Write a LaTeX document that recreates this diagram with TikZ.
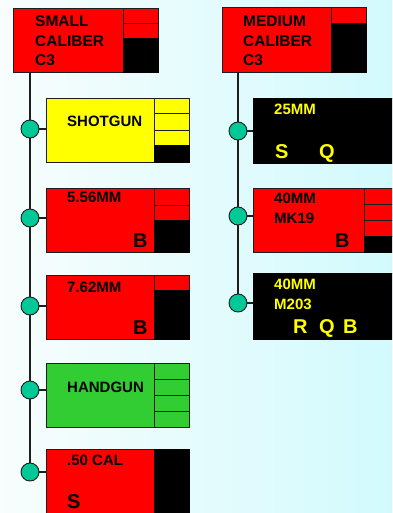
\documentclass[tikz,border=0pt]{standalone}
\usepackage{fontspec}
\setmainfont{Liberation Sans}
\definecolor{linec}{RGB}{30,30,30}
\definecolor{tealc}{RGB}{0,200,150}
\definecolor{redc}{RGB}{255,0,0}
\definecolor{yelc}{RGB}{255,255,0}
\definecolor{grnc}{RGB}{50,205,50}
\definecolor{bgL}{RGB}{248,253,253}
\definecolor{bgR}{RGB}{210,250,253}
\begin{document}
\begin{tikzpicture}[x=1pt,y=-1pt,
  cell/.style={draw=linec, line width=0.9pt, inner sep=0pt, outer sep=0pt, anchor=north west, rectangle},
  blk/.style={cell, fill=black, draw=black},
  dot/.style={circle, draw=linec, fill=tealc, line width=0.9pt, minimum size=18pt, inner sep=0pt},
  lbl/.style={anchor=base west, inner sep=0pt, font=\bfseries\fontsize{15}{15}\selectfont},
  big/.style={anchor=base west, inner sep=0pt, font=\bfseries\fontsize{20}{20}\selectfont},
  hdr/.style={anchor=base west, inner sep=0pt, font=\bfseries\fontsize{15.5}{15.5}\selectfont},
  conn/.style={draw=linec, line width=1.3pt}]
\useasboundingbox (0,0) rectangle (392,513);
\clip (0,0) rectangle (392,513);
\shade[left color=bgL, right color=bgR] (0,0) rectangle (392,513);

\coordinate (lc1) at (30,129);
\coordinate (lc5) at (30,472);
\coordinate (rc1) at (238,131);
\coordinate (rc3) at (238,303);

% ---------- SMALL CALIBER header ----------
\node[cell, fill=redc, minimum width=110pt, minimum height=64pt] (sc) at (13,8) {};
\node[cell, fill=redc, minimum width=35pt, minimum height=15pt] (sc1) at (123,8) {};
\node[cell, fill=redc, minimum width=35pt, minimum height=15pt] (sc2) at (123,23) {};
\node[blk, minimum width=35pt, minimum height=34pt] (sc3) at (123,38) {};
\node[hdr] (tsc1) at (35,27) {SMALL};
\node[hdr] (tsc2) at (35,47) {CALIBER};
\node[hdr] (tsc3) at (35,66) {C3};

% ---------- MEDIUM CALIBER header ----------
\node[cell, fill=redc, minimum width=109pt, minimum height=65pt] (mc) at (222,7) {};
\node[cell, fill=redc, minimum width=35pt, minimum height=16pt] (mc1) at (331,7) {};
\node[blk, minimum width=35pt, minimum height=49pt] (mc2) at (331,23) {};
\node[hdr] (tmc1) at (243,27) {MEDIUM};
\node[hdr] (tmc2) at (243,47) {CALIBER};
\node[hdr] (tmc3) at (243,66) {C3};

% ---------- trunk lines ----------
\draw[conn] (sc.south -| lc1) -- (lc5);
\draw[conn] (mc.south -| rc1) -- (rc3);

% ---------- SHOTGUN ----------
\node[cell, fill=yelc, minimum width=108pt, minimum height=64pt] (sg) at (46,98) {};
\node[cell, fill=yelc, minimum width=35pt, minimum height=15pt] (sg1) at (154,98) {};
\node[cell, fill=yelc, minimum width=35pt, minimum height=17pt] (sg2) at (154,113) {};
\node[cell, fill=yelc, minimum width=35pt, minimum height=15pt] (sg3) at (154,130) {};
\node[blk, minimum width=35pt, minimum height=17pt] (sg4) at (154,145) {};
\node[lbl] (tsg) at (67,127) {SHOTGUN};

% ---------- 5.56MM ----------
\node[cell, fill=redc, minimum width=108pt, minimum height=64pt] (f5) at (46,188) {};
\node[cell, fill=redc, minimum width=35pt, minimum height=17pt] (f51) at (154,188) {};
\node[cell, fill=redc, minimum width=35pt, minimum height=15pt] (f52) at (154,205) {};
\node[blk, minimum width=35pt, minimum height=32pt] (f53) at (154,220) {};
\node[lbl] (tf5) at (67,202) {5.56MM};
\node[big] (tf5b) at (133,247) {B};

% ---------- 7.62MM ----------
\node[cell, fill=redc, minimum width=108pt, minimum height=64pt] (s7) at (46,275) {};
\node[cell, fill=redc, minimum width=35pt, minimum height=15pt] (s71) at (154,275) {};
\node[blk, minimum width=35pt, minimum height=49pt] (s72) at (154,290) {};
\node[lbl] (ts7) at (67,292) {7.62MM};
\node[big] (ts7b) at (133,334) {B};

% ---------- HANDGUN ----------
\node[cell, fill=grnc, minimum width=108pt, minimum height=64pt] (hg) at (46,363) {};
\node[cell, fill=grnc, minimum width=35pt, minimum height=16pt] (hg1) at (154,363) {};
\node[cell, fill=grnc, minimum width=35pt, minimum height=16pt] (hg2) at (154,379) {};
\node[cell, fill=grnc, minimum width=35pt, minimum height=16pt] (hg3) at (154,395) {};
\node[cell, fill=grnc, minimum width=35pt, minimum height=16pt] (hg4) at (154,411) {};
\node[lbl] (thg) at (67,392) {HANDGUN};

% ---------- .50 CAL ----------
\node[cell, fill=redc, minimum width=108pt, minimum height=80pt] (fc) at (46,449) {};
\node[blk, minimum width=35pt, minimum height=80pt] (fc1) at (154,449) {};
\node[lbl] (tfc) at (67,465) {.50 CAL};
\node[big] (tfcs) at (67,508) {S};

% ---------- 25MM ----------
\node[blk, minimum width=110pt, minimum height=65pt] (m25) at (253,98) {};
\node[blk, minimum width=35pt, minimum height=65pt] (m251) at (363,98) {};
\node[lbl, text=yelc] (tm25) at (274,115) {25MM};
\node[big, text=yelc] (tm25s) at (275,158) {S};
\node[big, text=yelc] (tm25q) at (319,158) {Q};

% ---------- 40MM MK19 ----------
\node[cell, fill=redc, minimum width=111pt, minimum height=64pt] (mk) at (253,188) {};
\node[cell, fill=redc, minimum width=35pt, minimum height=16pt] (mk1) at (364,188) {};
\node[cell, fill=redc, minimum width=35pt, minimum height=16pt] (mk2) at (364,204) {};
\node[cell, fill=redc, minimum width=35pt, minimum height=16pt] (mk3) at (364,220) {};
\node[blk, minimum width=35pt, minimum height=16pt] (mk4) at (364,236) {};
\node[lbl] (tmk1) at (274,203) {40MM};
\node[lbl] (tmk2) at (274,223) {MK19};
\node[big] (tmkb) at (335,247) {B};

% ---------- 40MM M203 ----------
\node[blk, minimum width=110pt, minimum height=66pt] (mm) at (253,273) {};
\node[blk, minimum width=35pt, minimum height=66pt] (mm1) at (363,273) {};
\node[lbl, text=yelc] (tmm1) at (274,289) {40MM};
\node[lbl, text=yelc] (tmm2) at (274,309) {M203};
\node[big, text=yelc] (tmmr) at (293,333) {R};
\node[big, text=yelc] (tmmq) at (319,333) {Q};
\node[big, text=yelc] (tmmb) at (343,333) {B};

% ---------- branch dots ----------
\node[dot] (l1) at (30,129) {};
\node[dot] (l2) at (30,218) {};
\node[dot] (l3) at (30,306) {};
\node[dot] (l4) at (30,390) {};
\node[dot] (l5) at (30,472) {};
\node[dot] (r1) at (238,131) {};
\node[dot] (r2) at (238,216) {};
\node[dot] (r3) at (238,303) {};

\draw[conn] (l1.east) -- (l1 -| sg.west);
\draw[conn] (l2.east) -- (l2 -| f5.west);
\draw[conn] (l3.east) -- (l3 -| s7.west);
\draw[conn] (l4.east) -- (l4 -| hg.west);
\draw[conn] (l5.east) -- (l5 -| fc.west);
\draw[conn] (r1.east) -- (r1 -| m25.west);
\draw[conn] (r2.east) -- (r2 -| mk.west);
\draw[conn] (r3.east) -- (r3 -| mm.west);
\end{tikzpicture}
\end{document}
